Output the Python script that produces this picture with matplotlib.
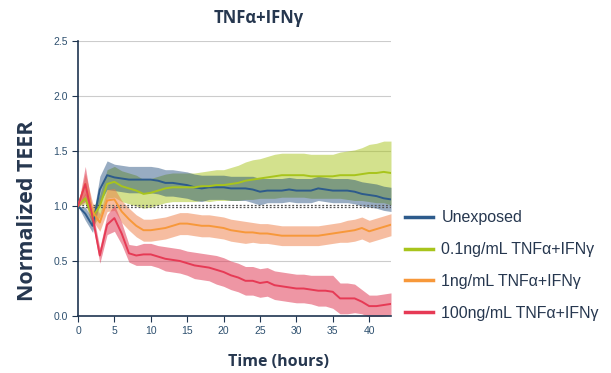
import matplotlib
matplotlib.use('Agg')
import matplotlib.pyplot as plt
from matplotlib.ticker import FormatStrFormatter
import numpy as np

# hours 0..43
hours = list(range(44))

unexposed = [1.00, 0.93, 0.82, 1.15, 1.28, 1.26, 1.25, 1.24, 1.24, 1.24, 1.24, 1.23, 1.21, 1.21,
             1.20, 1.19, 1.17, 1.16, 1.17, 1.17, 1.17, 1.16, 1.16, 1.16, 1.15, 1.13, 1.14, 1.14,
             1.14, 1.15, 1.14, 1.14, 1.14, 1.16, 1.15, 1.14, 1.14, 1.14, 1.13, 1.11, 1.10, 1.09,
             1.07, 1.06]
unexposed_err = [0.00, 0.06, 0.06, 0.12, 0.13, 0.12, 0.12, 0.12, 0.12, 0.12, 0.12, 0.12, 0.12, 0.12,
                 0.12, 0.12, 0.12, 0.12, 0.11, 0.11, 0.11, 0.11, 0.11, 0.11, 0.12, 0.12, 0.11, 0.11,
                 0.11, 0.11, 0.11, 0.11, 0.11, 0.11, 0.11, 0.11, 0.11, 0.11, 0.11, 0.11, 0.11, 0.11,
                 0.11, 0.11]

tnf01 = [1.00, 1.07, 0.90, 1.00, 1.20, 1.22, 1.18, 1.16, 1.14, 1.11, 1.12, 1.14, 1.16, 1.17,
         1.17, 1.17, 1.17, 1.18, 1.18, 1.19, 1.19, 1.20, 1.21, 1.23, 1.24, 1.25, 1.26, 1.27,
         1.28, 1.28, 1.28, 1.28, 1.27, 1.27, 1.27, 1.27, 1.28, 1.28, 1.28, 1.29, 1.30, 1.30,
         1.31, 1.30]
tnf01_err = [0.00, 0.05, 0.08, 0.10, 0.13, 0.14, 0.14, 0.14, 0.14, 0.13, 0.13, 0.13, 0.13, 0.13,
             0.13, 0.13, 0.13, 0.13, 0.14, 0.14, 0.14, 0.15, 0.16, 0.17, 0.18, 0.18, 0.19, 0.20,
             0.20, 0.20, 0.20, 0.20, 0.20, 0.20, 0.20, 0.20, 0.21, 0.22, 0.23, 0.24, 0.26, 0.27,
             0.28, 0.29]

tnf1 = [1.00, 1.20, 0.95, 0.85, 1.05, 1.06, 0.95, 0.88, 0.82, 0.78, 0.78, 0.79, 0.80, 0.82,
        0.84, 0.84, 0.83, 0.82, 0.82, 0.81, 0.80, 0.78, 0.77, 0.76, 0.76, 0.75, 0.75, 0.74,
        0.73, 0.73, 0.73, 0.73, 0.73, 0.73, 0.74, 0.75, 0.76, 0.77, 0.78, 0.80, 0.77, 0.79,
        0.81, 0.83]
tnf1_err = [0.00, 0.10, 0.08, 0.08, 0.10, 0.10, 0.10, 0.10, 0.10, 0.10, 0.10, 0.10, 0.10, 0.10,
            0.10, 0.10, 0.10, 0.10, 0.10, 0.10, 0.10, 0.10, 0.10, 0.10, 0.09, 0.09, 0.09, 0.09,
            0.09, 0.09, 0.09, 0.09, 0.09, 0.09, 0.09, 0.09, 0.09, 0.10, 0.10, 0.10, 0.10, 0.10,
            0.10, 0.10]

tnf100 = [1.00, 1.20, 0.90, 0.55, 0.83, 0.89, 0.75, 0.57, 0.55, 0.56, 0.56, 0.54, 0.52, 0.51,
          0.50, 0.48, 0.46, 0.45, 0.44, 0.42, 0.40, 0.37, 0.35, 0.32, 0.32, 0.30, 0.31, 0.28,
          0.27, 0.26, 0.25, 0.25, 0.24, 0.23, 0.23, 0.22, 0.16, 0.16, 0.16, 0.13, 0.09, 0.09,
          0.10, 0.11]
tnf100_err = [0.00, 0.16, 0.06, 0.07, 0.09, 0.12, 0.10, 0.08, 0.09, 0.10, 0.10, 0.10, 0.11, 0.11,
              0.11, 0.11, 0.12, 0.12, 0.12, 0.13, 0.13, 0.13, 0.13, 0.13, 0.13, 0.13, 0.13, 0.13,
              0.13, 0.13, 0.13, 0.13, 0.13, 0.14, 0.14, 0.15, 0.14, 0.14, 0.13, 0.11, 0.10, 0.10,
              0.10, 0.10]

labels = ['Unexposed', '0.1ng/mL TNF\u03b1+IFN\u03b3', '1ng/mL TNF\u03b1+IFN\u03b3',
          '100ng/mL TNF\u03b1+IFN\u03b3']
line_colors = ['#2d5b8c', '#a8c41c', '#f7983a', '#e63a55']
band_colors = ['#0a3a6e', '#a8c41c', '#ee7d45', '#e0405a']
band_alpha = [0.42, 0.5, 0.5, 0.55]

navy = '#26374f'
tick_col = '#2e506f'

plt.rcParams['font.family'] = ['Liberation Sans', 'DejaVu Sans']

fig = plt.figure(figsize=(6.11, 3.73), dpi=100)
ax = fig.add_axes([78 / 611, 1 - 316 / 373, (391 - 78) / 611, (316 - 41) / 373])

x = np.array(hours)
series = [(unexposed, unexposed_err), (tnf01, tnf01_err), (tnf1, tnf1_err), (tnf100, tnf100_err)]

# bands first (green under blue), lines on top
for i in [1, 0, 2, 3]:
    y, e = np.array(series[i][0]), np.array(series[i][1])
    ax.fill_between(x, y - e, y + e, color=band_colors[i], alpha=band_alpha[i], linewidth=0)

ax.axhline(1.01, color='#555555', lw=0.9, ls=(0, (1.5, 1.5)), zorder=3)
ax.axhline(0.99, color='#555555', lw=0.9, ls=(0, (1.5, 1.5)), zorder=3)

handles = []
for (y, e), lc, lab in zip(series, line_colors, labels):
    h, = ax.plot(x, y, color=lc, lw=1.4, label=lab, zorder=4)
    handles.append(h)

ax.set_xlim(0, 43)
ax.set_ylim(0, 2.5)
ax.set_xticks(range(0, 45, 5))
ax.set_yticks([0, 0.5, 1.0, 1.5, 2.0, 2.5])
ax.yaxis.set_major_formatter(FormatStrFormatter('%.1f'))
for yv in [0.5, 1.5, 2.0, 2.5]:
    ax.axhline(yv, color='#cccccc', lw=0.8, zorder=0)

for s in ['top', 'right']:
    ax.spines[s].set_visible(False)
for s in ['left', 'bottom']:
    ax.spines[s].set_color('#1f3550')
    ax.spines[s].set_linewidth(1.2)
ax.tick_params(axis='both', colors='#1f3550', labelcolor=tick_col, labelsize=7.5,
               length=4, width=0.8, direction='out')

fig.text(259 / 611, 1 - 18 / 373, 'TNF\u03b1+IFN\u03b3', ha='center', va='center',
         fontsize=12, fontweight='bold', color=navy, family=['Open Sans', 'DejaVu Sans'])
fig.text(28 / 611, 1 - 211 / 373, 'Normalized TEER', ha='center', va='center', rotation=90,
         fontsize=15.5, fontweight='bold', color=navy, family=['Open Sans', 'DejaVu Sans'])
fig.text(278 / 611, 1 - 362 / 373, 'Time (hours)', ha='center', va='center',
         fontsize=11.5, fontweight='bold', color=navy, family=['Open Sans', 'DejaVu Sans'])

leg = fig.legend(handles=handles, loc='upper left', bbox_to_anchor=(391 / 611, 1 - 196 / 373),
                 frameon=False, fontsize=11.5, handlelength=1.75, labelspacing=1.05,
                 handletextpad=0.5)
for t in leg.get_texts():
    t.set_color(navy)
for l in leg.get_lines():
    l.set_linewidth(2.5)

fig.savefig('out.png', dpi=100)
